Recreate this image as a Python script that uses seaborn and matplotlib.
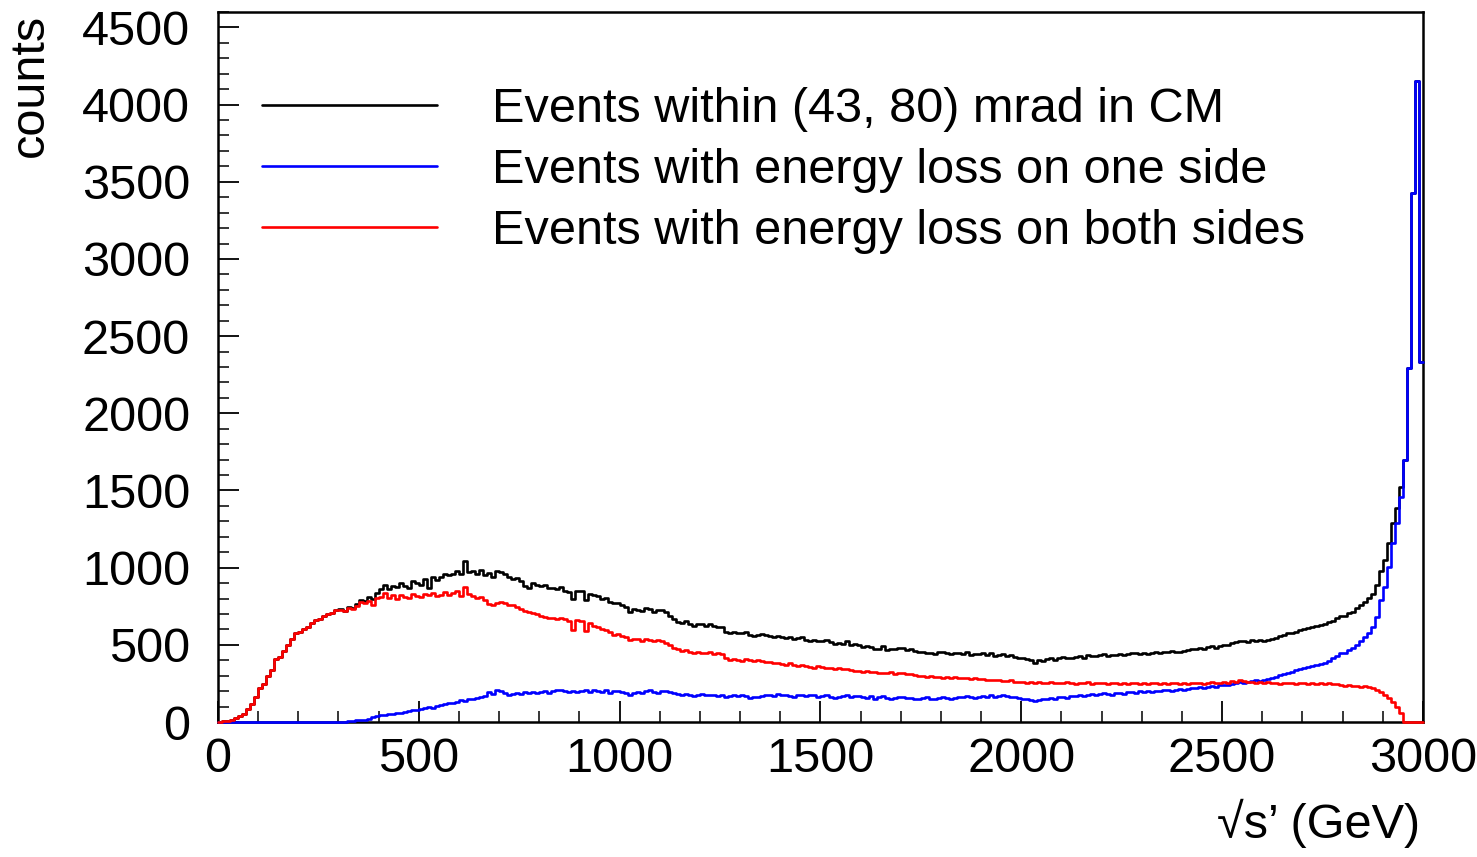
import numpy as np
import pandas as pd
import matplotlib
matplotlib.use("Agg")
import matplotlib.pyplot as plt
from matplotlib.ticker import MultipleLocator
import seaborn as sns

# Histogram binning: sqrt(s') from 0 to 3000 GeV in 10 GeV bins
bin_edges_gev = np.arange(0, 3001, 10)

# Events within (43, 80) mrad in CM
counts_cm_window = [
    2, 4, 9, 15, 26, 38, 50, 82, 118, 160,
    222, 248, 301, 338, 410, 420, 462, 498, 541, 578,
    584, 603, 617, 641, 662, 668, 690, 702, 708, 727,
    730, 722, 746, 741, 762, 792, 786, 812, 798, 834,
    860, 886, 864, 880, 872, 902, 884, 870, 912, 898,
    888, 925, 866, 938, 922, 940, 958, 950, 962, 978,
    962, 1040, 972, 978, 960, 985, 952, 966, 942, 980,
    972, 958, 940, 928, 934, 912, 880, 868, 898, 890,
    882, 890, 866, 870, 862, 878, 852, 845, 800, 850,
    848, 792, 830, 826, 818, 800, 805, 776, 768, 770,
    758, 742, 712, 730, 724, 718, 740, 730, 715, 724,
    726, 715, 688, 668, 648, 640, 655, 636, 622, 632,
    636, 620, 632, 622, 618, 616, 580, 574, 582, 574,
    578, 582, 566, 558, 564, 572, 566, 556, 550, 560,
    552, 546, 548, 536, 544, 550, 534, 528, 530, 524,
    526, 530, 520, 508, 512, 506, 522, 500, 504, 498,
    488, 492, 484, 470, 476, 492, 468, 474, 470, 482,
    482, 466, 472, 458, 452, 455, 450, 446, 442, 452,
    452, 446, 438, 450, 448, 440, 452, 436, 442, 438,
    446, 434, 444, 428, 436, 440, 430, 432, 420, 418,
    412, 408, 402, 380, 400, 398, 406, 414, 404, 412,
    420, 416, 418, 422, 426, 418, 432, 430, 428, 436,
    438, 430, 436, 432, 440, 436, 438, 444, 448, 442,
    446, 440, 450, 456, 448, 454, 452, 458, 454, 456,
    460, 466, 472, 470, 478, 470, 486, 490, 482, 494,
    500, 498, 512, 516, 528, 522, 518, 530, 524, 530,
    526, 534, 540, 546, 556, 562, 574, 576, 584, 594,
    602, 610, 614, 620, 626, 636, 650, 654, 672, 690,
    688, 704, 714, 736, 760, 780, 806, 830, 890, 980,
    1048, 1162, 1290, 1388, 1520, 1697, 2293, 3426, 4150, 2330,
]

# Events with energy loss on one side
counts_one_side = [
    0, 0, 0, 0, 0, 0, 0, 0, 0, 0,
    0, 0, 0, 0, 0, 0, 0, 0, 0, 0,
    0, 0, 0, 0, 0, 0, 0, 0, 0, 0,
    2, 3, 5, 8, 10, 14, 13, 22, 30, 38,
    45, 48, 52, 55, 60, 58, 66, 72, 78, 76,
    84, 92, 97, 94, 102, 108, 118, 126, 122, 132,
    140, 138, 146, 150, 158, 162, 168, 192, 182, 205,
    198, 188, 176, 182, 190, 184, 192, 186, 194, 188,
    196, 202, 190, 198, 205, 210, 200, 196, 204, 192,
    198, 206, 194, 210, 200, 196, 205, 190, 198, 202,
    194, 188, 176, 185, 192, 186, 198, 205, 196, 190,
    204, 198, 192, 186, 180, 176, 184, 175, 170, 178,
    182, 172, 178, 176, 168, 174, 160, 166, 172, 170,
    178, 168, 158, 165, 160, 170, 176, 172, 166, 180,
    172, 176, 170, 164, 175, 178, 168, 172, 174, 162,
    168, 176, 165, 158, 160, 166, 172, 162, 170, 166,
    160, 158, 166, 152, 160, 168, 155, 150, 158, 162,
    164, 155, 158, 150, 148, 154, 160, 146, 150, 158,
    162, 156, 150, 158, 165, 160, 168, 162, 156, 164,
    170, 165, 172, 160, 168, 175, 170, 164, 160, 158,
    152, 148, 140, 138, 145, 150, 148, 155, 152, 160,
    164, 158, 166, 170, 172, 168, 175, 180, 176, 184,
    188, 182, 178, 186, 190, 184, 192, 196, 190, 198,
    194, 200, 196, 204, 198, 206, 210, 202, 208, 212,
    210, 214, 220, 218, 226, 222, 230, 234, 228, 238,
    242, 238, 248, 252, 258, 255, 262, 266, 270, 268,
    272, 278, 286, 292, 305, 312, 320, 326, 334, 346,
    352, 358, 362, 370, 376, 384, 398, 412, 428, 446,
    448, 466, 478, 502, 528, 550, 576, 615, 680, 790,
    874, 1004, 1159, 1289, 1460, 1697, 2293, 3426, 4150, 2330,
]

# Events with energy loss on both sides
counts_both_sides = [
    2, 4, 9, 15, 26, 38, 50, 82, 118, 160,
    222, 248, 301, 338, 410, 420, 462, 498, 541, 578,
    584, 603, 617, 641, 662, 668, 690, 702, 708, 727,
    728, 719, 741, 733, 752, 776, 770, 787, 760, 801,
    812, 835, 806, 821, 798, 826, 812, 804, 830, 817,
    809, 828, 822, 838, 815, 826, 844, 820, 833, 851,
    815, 872, 830, 818, 806, 812, 790, 762, 756, 768,
    778, 772, 760, 756, 748, 735, 722, 712, 708, 698,
    690, 682, 672, 676, 670, 674, 665, 655, 598, 662,
    655, 588, 640, 622, 615, 600, 596, 580, 565, 570,
    560, 548, 532, 540, 535, 528, 538, 530, 522, 531,
    525, 515, 498, 478, 470, 462, 468, 455, 448, 452,
    450, 444, 452, 440, 446, 438, 412, 404, 408, 400,
    396, 408, 402, 395, 400, 398, 392, 388, 380, 384,
    376, 372, 380, 368, 366, 370, 362, 358, 352, 360,
    355, 348, 352, 345, 350, 342, 346, 340, 332, 330,
    326, 330, 322, 325, 318, 320, 316, 322, 314, 318,
    315, 308, 312, 304, 300, 298, 294, 296, 290, 292,
    288, 292, 285, 290, 286, 282, 285, 280, 284, 276,
    278, 272, 275, 270, 272, 268, 264, 270, 262, 258,
    262, 256, 260, 252, 258, 250, 256, 262, 254, 250,
    255, 260, 250, 248, 256, 252, 258, 248, 254, 250,
    252, 246, 255, 250, 248, 254, 245, 250, 256, 248,
    250, 244, 252, 256, 248, 252, 246, 254, 250, 245,
    252, 248, 256, 250, 254, 246, 252, 258, 250, 255,
    260, 256, 268, 262, 272, 265, 258, 262, 255, 260,
    252, 258, 250, 256, 248, 254, 250, 252, 246, 250,
    252, 248, 250, 246, 252, 248, 250, 244, 248, 242,
    236, 240, 232, 236, 228, 232, 226, 218, 206, 194,
    175, 156, 130, 98, 60, 0, 0, 0, 0, 0,
]

series_labels = [
    "Events within (43, 80) mrad in CM",
    "Events with energy loss on one side",
    "Events with energy loss on both sides",
]
series_colors = ["#000000", "#0000ff", "#ff0000"]

x_label = "\u221as\u2019 (GeV)"
y_label = "counts"

sns.set_style("white")
plt.rcParams["font.family"] = ["Liberation Sans", "DejaVu Sans"]
plt.rcParams["text.color"] = "black"
plt.rcParams["axes.labelcolor"] = "black"

FONT_PT = 35
LINE_W = 1.9

bin_centers = bin_edges_gev[:-1] + np.diff(bin_edges_gev) / 2.0
frames = []
for label, counts in zip(series_labels,
                         [counts_cm_window, counts_one_side, counts_both_sides]):
    frames.append(pd.DataFrame({"sqrt_s": bin_centers,
                                "counts": counts,
                                "sample": label}))
hist_df = pd.concat(frames, ignore_index=True)

fig = plt.figure(figsize=(14.77, 8.57), dpi=100)
ax = fig.add_axes([0.1476, 0.1575, 0.8158, 0.8285])

edges_list = [float(e) for e in bin_edges_gev]
for label, color in zip(series_labels, series_colors):
    sub = hist_df[hist_df["sample"] == label]
    sns.histplot(data=sub, x="sqrt_s", weights="counts", bins=edges_list,
                 element="step", fill=False, color=color, linewidth=LINE_W,
                 label=label, ax=ax)

# histogram outlines sit on top of the lower frame edge
for line in ax.get_lines():
    line.set_zorder(3)
    line.set_clip_on(False)

ax.set_xlim(0, 3000)
ax.set_ylim(0, 4600)

ax.xaxis.set_major_locator(MultipleLocator(500))
ax.xaxis.set_minor_locator(MultipleLocator(100))
ax.yaxis.set_major_locator(MultipleLocator(500))
ax.yaxis.set_minor_locator(MultipleLocator(100))

ax.tick_params(axis="both", which="both", direction="in", bottom=True,
               left=True, top=False, right=False, colors="black")
ax.tick_params(axis="both", which="major", length=15, width=1.3,
               labelsize=FONT_PT)
ax.tick_params(axis="both", which="minor", length=8, width=1.1)
ax.tick_params(axis="x", which="major", pad=11)
ax.tick_params(axis="y", which="major", pad=20)

for spine in ax.spines.values():
    spine.set_visible(True)
    spine.set_color("black")
    spine.set_linewidth(1.8)
    spine.set_zorder(2.5)

ax.set_xlabel(x_label, fontsize=FONT_PT, loc="right", color="black")
ax.set_ylabel(y_label, fontsize=FONT_PT, loc="top", color="black")
ax.xaxis.set_label_coords(0.9975, -0.108)
ax.yaxis.set_label_coords(-0.137, 0.998)

leg = ax.legend(loc="upper left", bbox_to_anchor=(0.0365, 0.894),
                frameon=False, fontsize=FONT_PT, borderpad=0, borderaxespad=0,
                handlelength=3.6, handletextpad=1.13, labelspacing=0.33)
for text in leg.get_texts():
    text.set_color("black")

fig.savefig("out.png", dpi=100, facecolor="white")
